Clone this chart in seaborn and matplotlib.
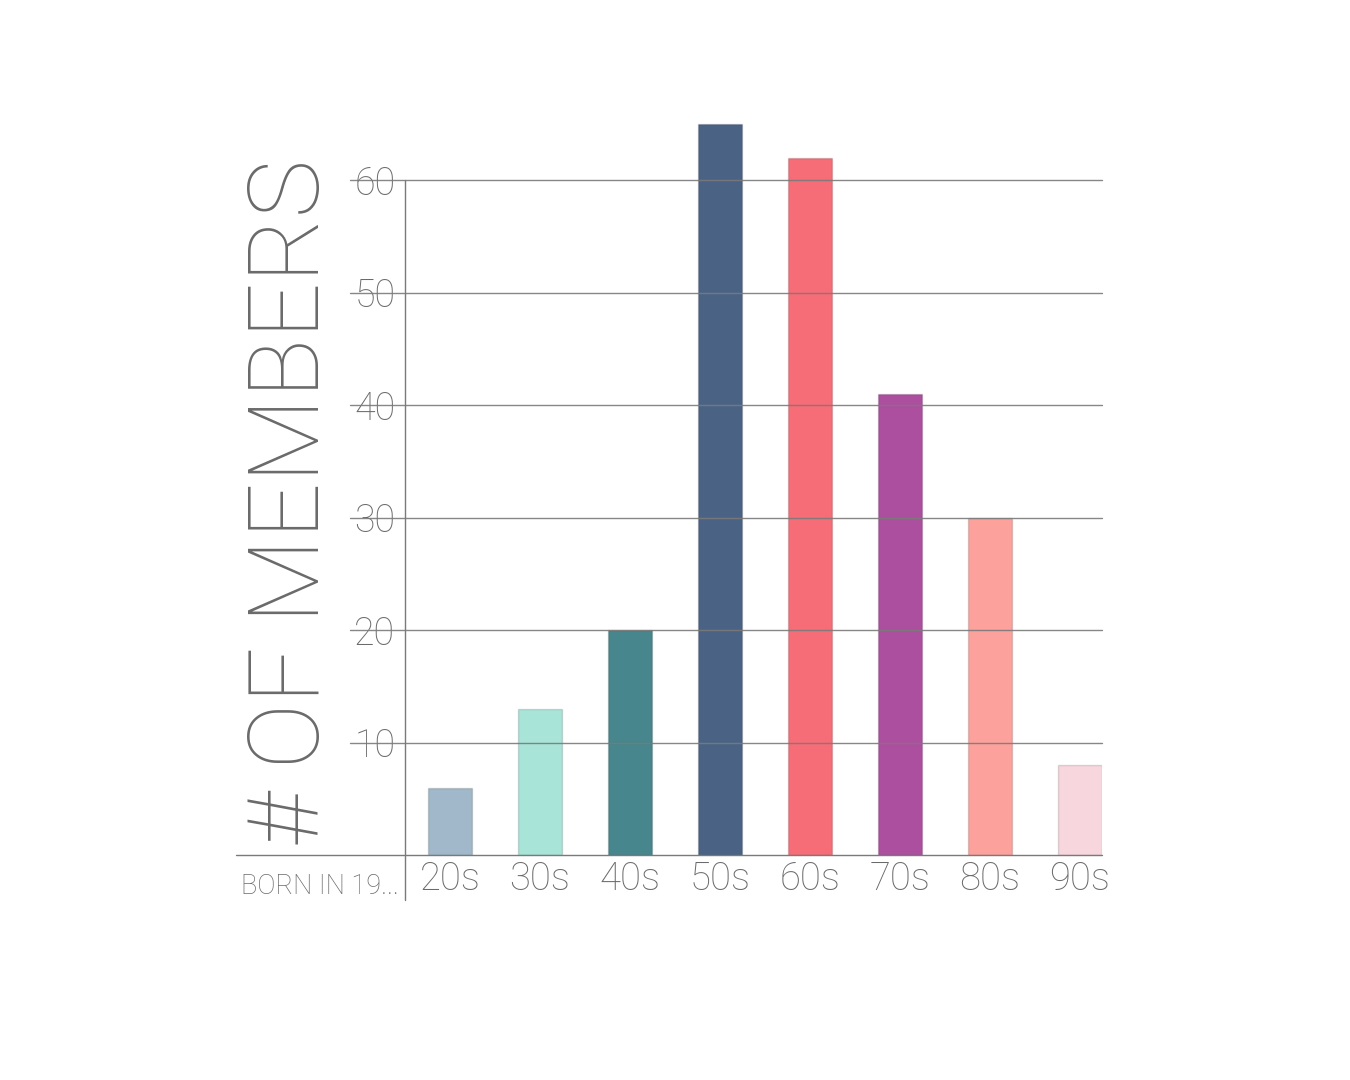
import pandas as pd
import seaborn as sns
import matplotlib.pyplot as plt

# data
decades = ['20s', '30s', '40s', '50s', '60s', '70s', '80s', '90s']
members = [6, 13, 20, 65, 62, 41, 30, 8]
bar_colors = ['#a0b8c9', '#a8e4d8', '#46868c', '#4a6385',
              '#f66c77', '#ad4f9f', '#fca19c', '#f7d6dd']
y_ticks = [10, 20, 30, 40, 50, 60]

df = pd.DataFrame({'Decade': decades, 'Members': members})

sns.set_style('white')
plt.rcParams['font.family'] = ['Roboto', 'DejaVu Sans']
text_gray = '#6a6a6a'
line_gray = '#7a7a7a'

fig = plt.figure(figsize=(13.5, 10.8), dpi=100)
ax = fig.add_axes([0.3, 0.2083, 0.5163, 0.7292])

sns.barplot(x='Decade', y='Members', hue='Decade', data=df, palette=bar_colors,
            legend=False, width=0.49, saturation=1, ax=ax, zorder=2,
            edgecolor='#00000022', linewidth=1)

ax.set_xlim(-0.5, 7.245)
ax.set_ylim(0, 70)
for s in ax.spines.values():
    s.set_visible(False)

# gridlines over the bars, running left through the tick labels
for t in y_ticks:
    ax.axhline(t, xmin=-0.079, xmax=1, color=line_gray, lw=1, zorder=3,
               clip_on=False, alpha=0.9)
ax.axhline(0, xmin=-0.2425, xmax=1, color=line_gray, lw=1, zorder=3, clip_on=False)
ax.axvline(-0.5, ymin=-45 / 787.5, ymax=60 / 70, color=line_gray, lw=1,
           zorder=3, clip_on=False)

ax.set_yticks(y_ticks)
ax.set_yticklabels([str(t) for t in y_ticks], fontsize=27, color=text_gray,
                   fontweight='light')
ax.tick_params(axis='y', length=0, pad=7)
ax.tick_params(axis='x', length=0, pad=4, labelsize=27.5, labelcolor=text_gray)
for lab in ax.get_xticklabels():
    lab.set_fontweight('light')
ax.set_xlabel('')
ax.set_ylabel('')

fig.text(0.2165, 0.535, '# OF MEMBERS', rotation=90, ha='center', va='center',
         fontsize=71, color=text_gray, fontweight='light')
fig.text(0.2955, 0.1796, 'BORN IN 19...', ha='right', va='center',
         fontsize=19.5, color=text_gray, fontweight='light')

fig.savefig('out.png', dpi=100, facecolor='white')
